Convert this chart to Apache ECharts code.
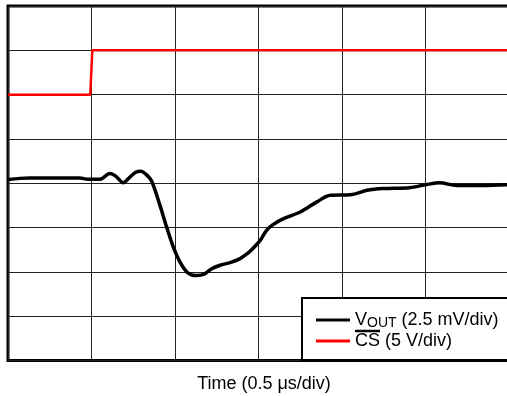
<!DOCTYPE html>
<html><head><meta charset="utf-8">
<script src="https://cdn.jsdelivr.net/npm/echarts@6/dist/echarts.min.js"></script>
<style>html,body{margin:0;padding:0;background:#fff}#c{width:507px;height:396px}</style>
</head><body><div id="c"></div>
<script>
// values in scope divisions (x: 0.5 us/div, y: divs from bottom)
const voutX = [0,0.14,0.26,0.56,0.86,0.96,1.10,1.22,1.29,1.38,1.46,1.53,1.59,1.66,1.72,1.82,1.90,1.98,2.06,2.14,2.20,2.26,2.35,2.44,2.54,2.66,2.78,2.87,2.93,3.02,3.09,3.16,3.30,3.50,3.70,3.86,4.10,4.30,4.49,4.81,5.01,5.17,5.37,5.69,6.0];
const voutY = [4.08,4.11,4.12,4.12,4.12,4.09,4.09,4.22,4.16,4.01,4.14,4.25,4.27,4.19,4.05,3.50,3.01,2.56,2.22,2.00,1.93,1.92,1.95,2.07,2.15,2.21,2.30,2.42,2.52,2.71,2.92,3.05,3.20,3.35,3.58,3.73,3.74,3.84,3.88,3.90,3.97,4.01,3.95,3.95,3.97];
const csX = [0,0.985,1.01,6];
const csY = [6,6,7,7];
const seriesNames = ['VOUT (2.5 mV/div)', 'CS (5 V/div)'];
const xLabel = 'Time (0.5 μs/div)';

const FONT = 'Liberation Sans, Arial, sans-serif';
const zip = (a,b) => a.map((v,i)=>[v,b[i]]);
const chart = echarts.init(document.getElementById('c'));
chart.setOption({
  animation:false,
  backgroundColor:'#fff',
  grid:{left:8,top:6,width:501,height:354.5,outerBoundsMode:'none',containLabel:false,show:true,borderColor:'#000',borderWidth:3,backgroundColor:'transparent'},
  xAxis:{type:'value',min:0,max:6,interval:1,
    axisLine:{show:false},axisTick:{show:false},axisLabel:{show:false},
    splitLine:{show:true,lineStyle:{color:'#222',width:1}},
    name:xLabel,nameLocation:'middle',nameGap:15,
    nameTextStyle:{fontFamily:FONT,fontSize:18,color:'#000',padding:[0,0,0,11]}},
  yAxis:{type:'value',min:0,max:8,interval:1,
    axisLine:{show:false},axisTick:{show:false},axisLabel:{show:false},
    splitLine:{show:true,lineStyle:{color:'#222',width:1}}},
  legend:{show:true,orient:'vertical',left:311,top:305,itemWidth:34,itemHeight:3,itemGap:2,
    icon:'rect',z:20,
    data:seriesNames,
    formatter:function(n){
      if(n===seriesNames[0]) return '{a|V}{b|OUT}{a| (2.5 mV/div)}';
      return '{a|CS (5 V/div)}';
    },
    textStyle:{fontFamily:FONT,color:'#000',
      rich:{a:{fontFamily:FONT,fontSize:18,color:'#000',lineHeight:19,padding:[0,0,0,0]},
            b:{fontFamily:FONT,fontSize:14,color:'#000',lineHeight:19,padding:[6,0,0,0]}}}
  },
  graphic:[
    {type:'rect',z:10,shape:{x:302,y:298,width:220,height:62},style:{fill:'#fff',stroke:'#000',lineWidth:2}},
    {type:'line',z:30,shape:{x1:355,y1:331,x2:380,y2:331},style:{stroke:'#000',lineWidth:2.5}}
  ],
  series:[
    {name:seriesNames[0],type:'line',data:zip(voutX,voutY),showSymbol:false,smooth:0.3,
      lineStyle:{color:'#000',width:3.5},itemStyle:{color:'#000'},z:3},
    {name:seriesNames[1],type:'line',data:zip(csX,csY),showSymbol:false,
      lineStyle:{color:'#ff0000',width:2.5},itemStyle:{color:'#ff0000'},z:4}
  ]
});
</script></body></html>
